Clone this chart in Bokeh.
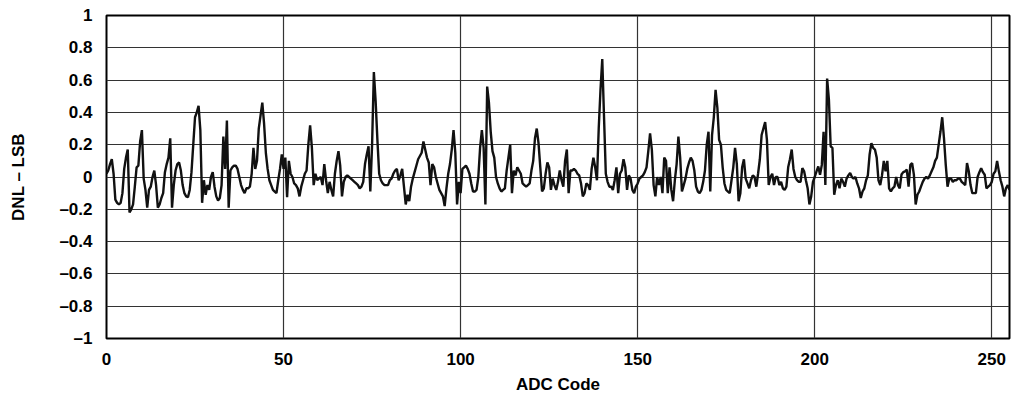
from bokeh.plotting import figure
from bokeh.models import FixedTicker, CustomJSTickFormatter, Range1d
from bokeh.embed import file_html
from bokeh.resources import INLINE

# DNL (LSB), one value every half ADC code from 0 to 255
dnl = [
    0.02, 0.04, 0.08, 0.11, 0.02, -0.14, -0.16, -0.17, -0.16, -0.10,
    0.05, 0.12, 0.17, -0.22, -0.20, -0.17, -0.06, 0.06, 0.07, 0.22,
    0.29, -0.01, -0.08, -0.19, -0.08, -0.06, 0.00, 0.04, -0.05, -0.19,
    -0.17, -0.13, -0.10, 0.03, 0.08, 0.12, 0.24, -0.19, -0.05, 0.04,
    0.08, 0.09, 0.04, -0.05, -0.10, -0.12, -0.125, -0.08, 0.03, 0.20,
    0.37, 0.40, 0.44, 0.29, -0.16, -0.02, -0.11, -0.05, -0.08, 0.00,
    0.03, -0.06, -0.12, -0.145, -0.13, -0.05, 0.25, 0.05, 0.35, -0.19,
    0.04, 0.06, 0.07, 0.07, 0.05, 0.00, -0.05, -0.08, -0.10, -0.07,
    -0.07, -0.06, 0.02, 0.18, 0.05, 0.10, 0.30, 0.38, 0.46, 0.33,
    0.15, 0.05, -0.02, -0.05, -0.08, -0.09, -0.10, -0.02, 0.05, 0.14,
    0.05, 0.12, -0.125, 0.10, 0.02, 0.00, -0.04, -0.05, -0.07, -0.12,
    -0.06, -0.02, 0.02, 0.04, 0.20, 0.32, 0.18, -0.05, 0.02, -0.02,
    -0.01, 0.00, -0.05, 0.08, -0.02, -0.10, -0.03, -0.08, -0.12, 0.02,
    0.10, 0.16, 0.07, -0.12, -0.03, 0.00, 0.01, 0.00, -0.01, -0.02,
    -0.03, -0.04, -0.05, -0.07, -0.06, -0.03, 0.08, 0.14, 0.19, -0.09,
    0.20, 0.65, 0.47, 0.23, 0.02, -0.02, -0.04, -0.05, -0.05, -0.05,
    -0.02, -0.01, 0.02, 0.04, 0.05, -0.02, 0.01, 0.05, -0.06, -0.17,
    -0.11, -0.15, -0.06, -0.01, 0.03, 0.07, 0.11, 0.13, 0.15, 0.22,
    0.17, 0.12, 0.09, -0.05, 0.08, 0.06, 0.00, -0.04, -0.08, -0.10,
    -0.12, -0.18, -0.07, 0.02, 0.08, 0.17, 0.29, 0.15, -0.17, -0.03,
    -0.10, 0.05, 0.06, 0.07, 0.05, 0.02, -0.04, -0.09, -0.09, -0.08,
    0.00, 0.18, 0.29, 0.18, -0.17, 0.56, 0.46, 0.28, 0.16, 0.12,
    0.00, -0.04, -0.07, -0.09, -0.08, -0.07, 0.04, 0.12, 0.20, -0.10,
    0.04, 0.01, 0.06, 0.04, 0.02, -0.04, -0.05, -0.06, -0.05, -0.04,
    0.04, 0.10, 0.24, 0.30, 0.21, 0.06, -0.09, -0.07, 0.02, 0.09,
    0.06, -0.08, -0.01, -0.05, -0.08, -0.03, 0.04, -0.02, -0.06, 0.10,
    0.17, -0.10, 0.04, 0.04, 0.05, 0.04, 0.02, 0.01, -0.04, -0.12,
    -0.10, -0.04, -0.05, -0.08, 0.05, 0.12, 0.06, -0.02, 0.30, 0.54,
    0.73, 0.37, 0.02, -0.03, -0.06, -0.06, -0.08, -0.02, 0.06, -0.10,
    0.02, 0.04, 0.11, 0.06, -0.08, 0.01, -0.01, -0.08, -0.10, -0.06,
    -0.04, -0.01, 0.00, 0.01, 0.03, 0.06, 0.16, 0.27, 0.17, -0.05,
    -0.12, 0.00, -0.05, 0.00, -0.10, 0.12, 0.10, -0.10, 0.06, -0.08,
    -0.15, -0.02, 0.08, 0.25, 0.12, -0.09, -0.05, -0.01, 0.05, 0.09,
    0.12, 0.10, 0.04, -0.06, -0.09, -0.10, -0.08, -0.03, 0.04, 0.20,
    0.28, -0.09, 0.26, 0.37, 0.54, 0.43, 0.23, 0.20, 0.06, -0.04,
    -0.08, -0.09, -0.10, -0.02, 0.06, 0.18, 0.08, -0.15, -0.10, 0.06,
    0.11, -0.01, -0.04, -0.07, -0.02, 0.01, 0.00, -0.06, 0.02, 0.11,
    0.26, 0.30, 0.34, 0.23, -0.05, 0.00, 0.02, -0.05, 0.00, 0.00,
    -0.05, -0.03, -0.07, -0.08, -0.06, 0.06, 0.11, 0.17, 0.05, 0.00,
    -0.02, -0.03, -0.03, 0.055, 0.035, -0.02, -0.07, -0.17, -0.12, -0.03,
    0.00, 0.035, 0.065, 0.014, 0.075, 0.28, -0.05, 0.61, 0.48, 0.19,
    0.18, -0.11, -0.05, -0.02, -0.07, -0.01, -0.03, -0.06, -0.01, 0.01,
    0.025, 0.00, -0.01, 0.00, -0.04, -0.07, -0.13, -0.09, -0.07, -0.02,
    0.01, 0.14, 0.21, 0.18, 0.17, 0.12, -0.02, -0.05, 0.01, 0.10,
    0.035, 0.10, -0.07, -0.09, -0.07, -0.06, 0.00, -0.05, -0.07, 0.015,
    0.03, 0.035, 0.045, -0.06, 0.075, 0.086, 0.015, -0.17, -0.11, -0.09,
    -0.06, -0.03, -0.01, 0.00, -0.01, 0.01, 0.035, 0.06, 0.10, 0.12,
    0.20, 0.28, 0.37, 0.24, 0.075, -0.06, -0.01, -0.01, -0.03, -0.02,
    -0.02, -0.01, -0.01, -0.03, -0.04, -0.05, 0.086, 0.035, -0.05, -0.10,
    -0.10, -0.10, 0.00, 0.03, 0.055, 0.03, 0.014, -0.07, -0.06, -0.05,
    -0.03, 0.02, 0.035, 0.10, 0.035, -0.02, -0.06, -0.12, -0.07, -0.05,
    -0.08,
]
codes = [i * 0.5 for i in range(len(dnl))]  # ADC code axis, half-code steps
x_ticks = [0, 50, 100, 150, 200, 250]
y_ticks = [-1, -0.8, -0.6, -0.4, -0.2, 0, 0.2, 0.4, 0.6, 0.8, 1]

FONT = "Liberation Sans"

p = figure(
    output_backend="svg", toolbar_location=None,
    frame_width=903, frame_height=323,
    min_border_left=106, min_border_right=4, min_border_top=15, min_border_bottom=60,
    x_range=Range1d(0, 255), y_range=Range1d(-1, 1),
    background_fill_color="white", border_fill_color="white",
)

p.line(codes, dnl, line_color="#111111", line_width=2.4)

p.outline_line_color = "black"
p.outline_line_width = 2

p.xaxis.ticker = FixedTicker(ticks=x_ticks)
p.yaxis.ticker = FixedTicker(ticks=y_ticks)
p.yaxis.formatter = CustomJSTickFormatter(code="""
const a = Math.abs(tick);
let s = (Math.abs(a - Math.round(a)) < 1e-9) ? String(Math.round(a)) : a.toFixed(1);
return (tick < -1e-9 ? '\\u2013' : '') + s;
""")

for ax in (p.xaxis[0], p.yaxis[0]):
    ax.axis_line_color = None
    ax.major_tick_line_color = None
    ax.minor_tick_line_color = None
    ax.major_label_text_font = FONT
    ax.major_label_text_font_style = "bold"
    ax.major_label_text_font_size = "17px"
    ax.major_label_text_color = "black"
    ax.axis_label_text_font = FONT
    ax.axis_label_text_font_style = "bold"
    ax.axis_label_text_font_size = "17px"
    ax.axis_label_text_color = "black"

p.xaxis.axis_label = "ADC Code"
p.yaxis.axis_label = "DNL \u2013 LSB"
p.xaxis.major_label_standoff = 8
p.xaxis.axis_label_standoff = 7
p.yaxis.major_label_standoff = 8
p.yaxis.axis_label_standoff = 28

p.xgrid.ticker = FixedTicker(ticks=x_ticks)
p.ygrid.ticker = FixedTicker(ticks=y_ticks)
for g in (p.xgrid[0], p.ygrid[0]):
    g.grid_line_color = "#333333"
    g.grid_line_width = 1.2

open("out.html", "w").write(file_html(p, INLINE))
